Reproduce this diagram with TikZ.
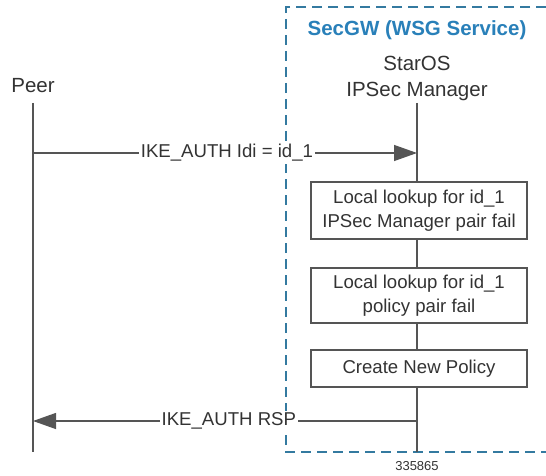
\documentclass[tikz,border=0pt]{standalone}
\usepackage{fontspec}
\setmainfont{Liberation Sans}
\usetikzlibrary{arrows.meta}

\definecolor{linegray}{RGB}{85,85,85}
\definecolor{textgray}{RGB}{51,51,51}
\definecolor{gwblue}{RGB}{41,128,185}
\definecolor{dashblue}{RGB}{52,122,160}

\tikzset{
    lifeline/.style={draw=linegray, line width=1.3pt},
    msg/.style={draw=linegray, line width=1.3pt, -{Triangle[length=23pt,width=16pt]}},
    msglabel/.style={fill=white, inner sep=2pt, text=textgray, font=\fontsize{18.6}{24}\selectfont},
    stepbox/.style={draw=linegray, line width=1.3pt, fill=white, minimum width=216pt,
        align=center, text=textgray, font=\fontsize{18.6}{24}\selectfont},
    header/.style={text=textgray, align=center, font=\fontsize{20.5}{26}\selectfont}
}

\begin{document}
\begin{tikzpicture}[x=1pt,y=-1pt]
        \useasboundingbox (0,0) rectangle (546,476);

        % SecGW frame
        \draw[dashblue, line width=1.5pt, dash pattern=on 10pt off 6pt]
            (546,7) -- (286,7) -- (286,452) -- (546,452);
        \node[font=\bfseries\fontsize{20.5}{24}\selectfont, text=gwblue] (secgw) at (417,30) {SecGW (WSG Service)};

        % participants
        \node[header] (peer) at (33,86) {Peer};
        \node[header] (mgr) at (417,78) {StarOS\\IPSec Manager};

        \coordinate (peertop) at (33,103);
        \coordinate (peerbot) at (33,452);
        \coordinate (mgrtop) at (417,103);
        \coordinate (mgrbot) at (417,452);
        \draw[lifeline] (peertop) -- (peerbot);
        \draw[lifeline] (mgrtop) -- (mgrbot);

        % processing steps
        \node[stepbox, minimum height=57pt] (lookupmgr) at (419,210.5) {Local lookup for id\_1\\IPSec Manager pair fail};
        \node[stepbox, minimum height=55pt] (lookuppol) at (419,295.5) {Local lookup for id\_1\\policy pair fail};
        \node[stepbox, minimum height=37pt] (newpol) at (419,368.5) {Create New Policy};

        % messages
        \coordinate (authfrom) at (33,153);
        \coordinate (authto) at (417,153);
        \draw[msg] (authfrom) -- node[msglabel, pos=0.505] (authlbl) {IKE\_AUTH Idi = id\_1} (authto);

        \coordinate (rspfrom) at (417,421);
        \coordinate (rspto) at (33,421);
        \draw[msg] (rspfrom) -- node[msglabel, pos=0.49] (rsplbl) {IKE\_AUTH RSP} (rspto);

        \node[text=textgray, font=\fontsize{13}{15}\selectfont] (figno) at (417,466) {335865};
    \end{tikzpicture}
\end{document}
